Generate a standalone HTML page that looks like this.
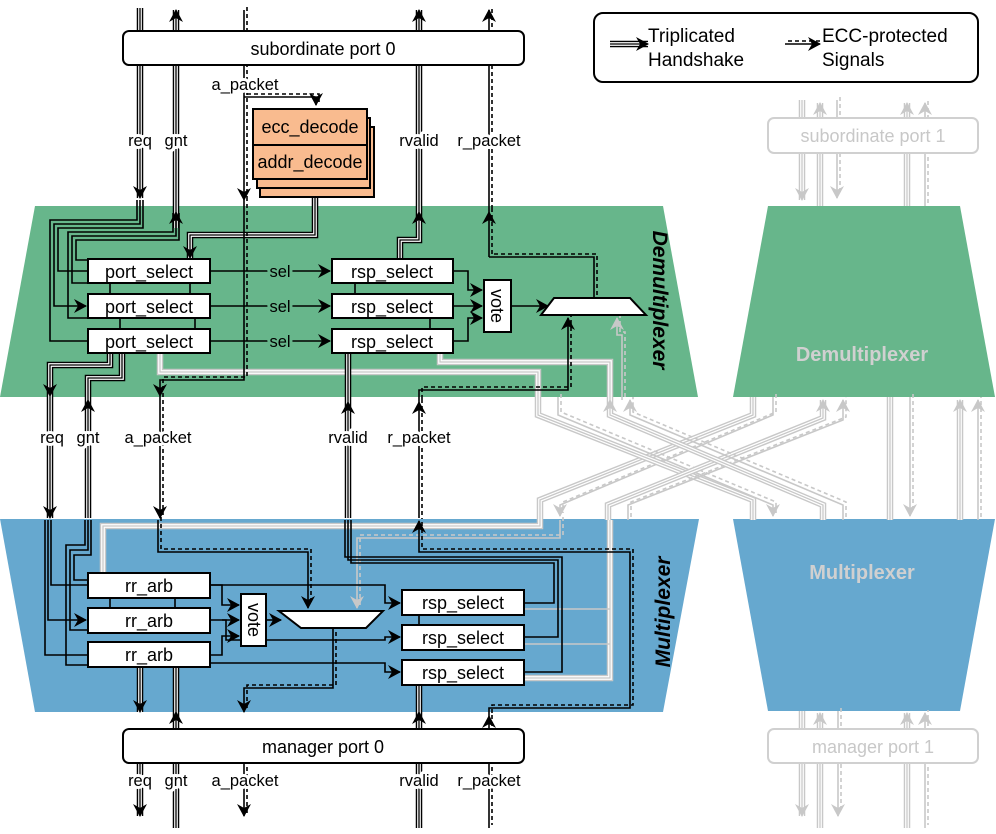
<!DOCTYPE html>
<html><head><meta charset="utf-8"><style>
html,body{margin:0;padding:0;background:#fff}
svg{display:block}
text{font-family:"Liberation Sans",Arial,sans-serif}
.lb{font-size:16.5px;fill:#000;stroke:#fff;stroke-width:6px;paint-order:stroke;stroke-linejoin:round}
.sl{font-size:16.5px;fill:#000;stroke:#67b68b;stroke-width:6px;paint-order:stroke}
.bx{fill:#fff;stroke:#000;stroke-width:2}
.bt{font-size:18px;text-anchor:middle}
</style></head><body>
<svg id="s" width="996" height="834" viewBox="0 0 996 834" xmlns="http://www.w3.org/2000/svg">
<defs>
<marker id="ak" markerUnits="userSpaceOnUse" markerWidth="16" markerHeight="16" refX="12" refY="7" orient="auto"><path d="M0,0 L13,7 L0,14 L4,7 z" fill="#000"/></marker>
<marker id="ag" markerUnits="userSpaceOnUse" markerWidth="16" markerHeight="16" refX="12" refY="7" orient="auto"><path d="M0,0 L13,7 L0,14 L4,7 z" fill="#c8c8c8"/></marker>
</defs>
<polygon points="35,206 663,206 698,397 0,397" fill="#67b68b"/>
<polygon points="768,206 960,206 995,397 733,397" fill="#67b68b"/>
<polygon points="0,519 699,519 663,712 35,712" fill="#66a8cf"/>
<polygon points="733,519 995,519 960,711 768,711" fill="#66a8cf"/>
<g id="wires"></g>
<rect x="123" y="31" width="401" height="34" rx="6" class="bx"/>
<text x="323" y="55" class="bt" font-size="19">subordinate port 0</text>
<rect x="594" y="13" width="384" height="69" rx="9" fill="none" stroke="#000" stroke-width="2"/>
<text x="648" y="42" font-size="19">Triplicated</text>
<text x="648" y="66" font-size="19">Handshake</text>
<text x="822" y="42" font-size="19">ECC-protected</text>
<text x="822" y="66" font-size="19">Signals</text>
<rect x="260" y="127" width="114" height="70" fill="#f9bb8f" stroke="#000" stroke-width="2"/>
<rect x="257" y="118" width="113" height="70" fill="#f9bb8f" stroke="#000" stroke-width="2"/>
<rect x="253" y="109" width="114" height="70" fill="#f9bb8f" stroke="#000" stroke-width="2"/>
<line x1="253" y1="145" x2="367" y2="145" stroke="#000" stroke-width="2"/>
<text x="310" y="133" class="bt">ecc_decode</text>
<text x="310" y="168" class="bt">addr_decode</text>
<rect x="88" y="259" width="122" height="24" class="bx"/><text x="149" y="278" class="bt">port_select</text>
<rect x="88" y="294" width="122" height="24" class="bx"/><text x="149" y="313" class="bt">port_select</text>
<rect x="88" y="329" width="122" height="24" class="bx"/><text x="149" y="348" class="bt">port_select</text>
<rect x="332" y="259" width="121" height="24" class="bx"/><text x="392" y="278" class="bt">rsp_select</text>
<rect x="332" y="294" width="121" height="24" class="bx"/><text x="392" y="313" class="bt">rsp_select</text>
<rect x="332" y="329" width="121" height="24" class="bx"/><text x="392" y="348" class="bt">rsp_select</text>
<rect x="484" y="280" width="27" height="52" class="bx"/>
<text transform="translate(491,306) rotate(90)" class="bt">vote</text>
<polygon points="554,298 630,298 646,315 541,315" class="bx"/>
<text x="280" y="277" class="sl" text-anchor="middle">sel</text>
<text x="280" y="312" class="sl" text-anchor="middle">sel</text>
<text x="280" y="347" class="sl" text-anchor="middle">sel</text>
<text transform="translate(653,300) rotate(90)" font-size="21" font-weight="bold" font-style="italic" text-anchor="middle">Demultiplexer</text>
<text x="862" y="361" font-size="20" font-weight="bold" fill="#d0d0d0" text-anchor="middle">Demultiplexer</text>
<rect x="88" y="573" width="122" height="25" class="bx"/><text x="149" y="592" class="bt">rr_arb</text>
<rect x="88" y="608" width="122" height="25" class="bx"/><text x="149" y="627" class="bt">rr_arb</text>
<rect x="88" y="642" width="122" height="25" class="bx"/><text x="149" y="661" class="bt">rr_arb</text>
<rect x="241" y="594" width="25" height="52" class="bx"/>
<text transform="translate(248,620) rotate(90)" class="bt">vote</text>
<polygon points="279,611 383,611 366,628 301,628" class="bx"/>
<rect x="402" y="590" width="122" height="25" class="bx"/><text x="463" y="609" class="bt">rsp_select</text>
<rect x="402" y="625" width="122" height="25" class="bx"/><text x="463" y="644" class="bt">rsp_select</text>
<rect x="402" y="660" width="122" height="25" class="bx"/><text x="463" y="679" class="bt">rsp_select</text>
<text transform="translate(670,612) rotate(-90)" font-size="21" font-weight="bold" font-style="italic" text-anchor="middle">Multiplexer</text>
<text x="862" y="579" font-size="20" font-weight="bold" fill="#d0d0d0" text-anchor="middle">Multiplexer</text>
<rect x="123" y="729" width="401" height="34" rx="6" class="bx"/>
<text x="323" y="753" class="bt" font-size="19">manager port 0</text>
<rect x="768" y="118" width="210" height="35" rx="6" fill="#fff" stroke="#d0d0d0" stroke-width="2"/>
<text x="873" y="142" class="bt" fill="#c8c8c8">subordinate port 1</text>
<rect x="768" y="729" width="210" height="34" rx="6" fill="#fff" stroke="#d0d0d0" stroke-width="2"/>
<text x="873" y="753" class="bt" fill="#c8c8c8">manager port 1</text>
<text x="140" y="146" class="lb" text-anchor="middle">req</text>
<text x="176" y="146" class="lb" text-anchor="middle">gnt</text>
<text x="245" y="90" class="lb" text-anchor="middle">a_packet</text>
<text x="419" y="146" class="lb" text-anchor="middle">rvalid</text>
<text x="489" y="146" class="lb" text-anchor="middle">r_packet</text>
<text x="52" y="443" class="lb" text-anchor="middle">req</text>
<text x="88" y="443" class="lb" text-anchor="middle">gnt</text>
<text x="158" y="443" class="lb" text-anchor="middle">a_packet</text>
<text x="348" y="443" class="lb" text-anchor="middle">rvalid</text>
<text x="419" y="443" class="lb" text-anchor="middle">r_packet</text>
<text x="140" y="786" class="lb" text-anchor="middle">req</text>
<text x="176" y="786" class="lb" text-anchor="middle">gnt</text>
<text x="245" y="786" class="lb" text-anchor="middle">a_packet</text>
<text x="419" y="786" class="lb" text-anchor="middle">rvalid</text>
<text x="489" y="786" class="lb" text-anchor="middle">r_packet</text>
</svg>
<script>
(function(){
var g=document.getElementById('wires'),NS='http://www.w3.org/2000/svg';
function P(d,st){var p=document.createElementNS(NS,'path');p.setAttribute('d',d);p.setAttribute('fill','none');for(var k in st)p.setAttribute(k,st[k]);g.appendChild(p);return p;}
function T(d,a,c){c=c||'#000';var m=c=='#000'?'ak':'ag';
P(d,{stroke:c,'stroke-width':6.5});P(d,{stroke:'#fff','stroke-width':3.7});
var o={stroke:c,'stroke-width':1.3};if(a)o['marker-end']='url(#'+m+')';P(d,o);}
function E(d,a,c){c=c||'#000';var m=c=='#000'?'ak':'ag';
var o={stroke:c,'stroke-width':1.6};if(a)o['marker-end']='url(#'+m+')';P(d,o);
P(d,{stroke:c,'stroke-width':1.6,'stroke-dasharray':'4,3',transform:'translate(3,-3)'});}
function S(d,a,c){c=c||'#000';var m=c=='#000'?'ak':'ag';var o={stroke:c,'stroke-width':1.6};if(a)o['marker-end']='url(#'+m+')';P(d,o);}
var G='#c8c8c8';
T('M802,100 V200',1,G);T('M820,206 V103',1,G);E('M837,100 V198',1,G);T('M907,206 V103',1,G);E('M925,206 V103',1,G);
T('M753,397 V415 L540,500 V520',0,G);E('M773,397 V415 L560,505 V516',1,G);
T('M538,397 V415 L753,500 V520',0,G);E('M558,397 V415 L773,505 V516',1,G);
T('M608,520 V505 L823,418 V400',1,G);E('M628,520 V505 L843,420 V400',1,G);
T('M823,520 V505 L610,415 V400',1,G);E('M843,520 V505 L630,415 V400',1,G);
T('M890,397 V520',0,G);E('M910,397 V516',1,G);T('M960,520 V400',1,G);E('M978,520 V400',1,G);
T('M802,711 V816',1,G);T('M820,729 V713',1,G);E('M838,711 V816',1,G);T('M907,729 V713',1,G);E('M925,729 V713',1,G);
T('M820,763 V828',0,G);T('M907,763 V828',0,G);E('M925,763 V828',0,G);
T('M538,397 V372 H160 V353',0,G);T('M610,400 V362 H440 V353',0,G);E('M622,400 V335 H617 V318',1,G);
T('M540,520 V526 H103 V598',0,G);E('M560,520 V538 H357 V608',1,G);
T('M610,520 V678 H524',0,G);S('M610,609 H524',0,G);S('M610,644 H524',0,G);
T('M140,8 V198',1);T('M176,228 V212',1);T('M176,212 V10',1);
E('M244,10 V200',1);E('M244,97 H316 V105',1);
T('M419,228 V212',1);T('M419,212 V10',1);
E('M489,257 V212',1);E('M489,212 V10',1);
S('M137,200 V220 H50 V341 H88');S('M140,200 V224 H54 V306 H86',1);S('M143,200 V228 H58 V271 H88');
S('M173,213 V232 H68 V318 H88');S('M176,213 V236 H72 V283 H88');S('M179,213 V240 H76 V260 H88');
T('M110,353 V365 H50 V396',1);T('M50,396 V518',1);
T('M88,518 V400',1);T('M88,400 V378 H122 V353',0);
T('M315,179 V235 H190 V258',1);
E('M244,200 V380 H160 V396',1);E('M160,396 V518',1);
S('M210,271 H330',1);S('M210,306 H330',1);S('M210,341 H330',1);
S('M453,271 H468 V290 H482',1);S('M453,306 H482',1);S('M453,341 H468 V318 H482',1);
S('M511,306 H548',1);
E('M594,298 V257 H489',0);
E('M419,518 V402',1);E('M419,402 V390 H568 V318',1);
T('M348,518 V402',1);T('M348,402 V353',0);
T('M400,259 V240 H419 V228',0);
S('M190,283 V294');S('M110,283 V294');S('M120,318 V329');S('M195,318 V329');
S('M355,283 V294');S('M430,318 V329');
S('M45,520 V655 H88');S('M48,520 V620 H86',1);S('M51,520 V585 H88');
S('M85,520 V545 H66 V665 H88');S('M88,520 V550 H70 V630 H88');S('M91,520 V555 H74 V580 H88');
S('M210,585 H222 V605 H239',1);S('M210,620 H239',1);S('M210,655 H222 V636 H239',1);
S('M266,620 H281',1);
S('M210,585 H385 V603 H400',1);S('M222,620 H226 V640 H385 V637 H400',1);S('M210,663 H385 V672 H400',1);
E('M158,520 V552 H308 V608',1);
E('M333,628 V688 H244 V712',1);
S('M345,520 V557 H562 V672 H524');S('M348,520 V560 H558 V637 H524');S('M351,520 V563 H554 V603 H524');
E('M489,729 V716',1);E('M489,716 V708 H630 V552 H419 V521',1);
T('M140,667 V712',1);T('M176,729 V712',1);T('M176,712 V667',0);
T('M419,729 V712',1);T('M419,712 V685',0);
S('M110,598 V608');S('M175,598 V608');S('M419,615 V625');
T('M140,763 V816',1);T('M176,763 V828',0);E('M244,763 V816',1);T('M419,763 V828',0);E('M489,763 V828',0);
T('M610,44 H648',1);E('M785,44 H820',1);
})();
</script>
</body></html>
